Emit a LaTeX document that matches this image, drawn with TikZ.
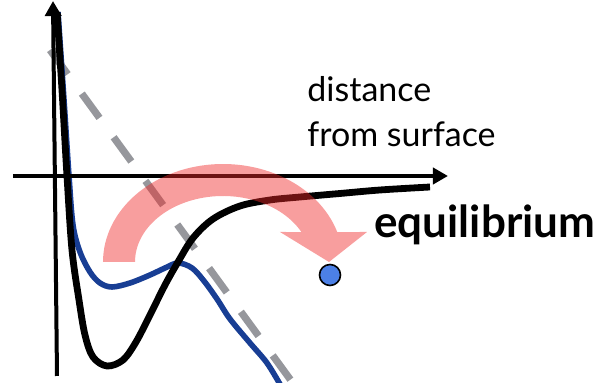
\documentclass[tikz,border=0pt]{standalone}
\usepackage{fontspec}
\setmainfont{Lato}
\usetikzlibrary{arrows.meta}
\definecolor{curveblue}{RGB}{24,62,148}
\definecolor{dashgray}{RGB}{150,151,156}
\definecolor{dotblue}{RGB}{76,128,230}
\definecolor{bandred}{RGB}{240,40,40}
\tikzset{
  axisline/.style={line width=2pt,-{Triangle[length=7.5pt,width=8pt]}},
  blackcurve/.style={line width=3.4pt,line join=round},
  bluecurve/.style={line width=2.8pt,curveblue,line join=round},
  grayline/.style={line width=3.6pt,dashgray,dash pattern=on 15pt off 12pt},
  label/.style={inner sep=0pt,anchor=base west,font=\fontsize{17pt}{20pt}\selectfont},
  biglabel/.style={inner sep=0pt,anchor=base west,font=\fontsize{22pt}{26pt}\selectfont\bfseries},
  eqdot/.style={circle,draw=black,line width=0.8pt,fill=dotblue,minimum size=10.5pt,inner sep=0pt}
}
\begin{document}
\begin{tikzpicture}[x=0.5pt,y=-0.5pt]
\useasboundingbox (0,0) rectangle (602,383);
% dashed gray straight line
\coordinate (gA) at (50,50);
\coordinate (gB) at (295,386);
\draw[grayline] (gA) -- (gB);
% blue curve
\draw[bluecurve] plot[smooth,tension=0.55] coordinates {
 (58,12) (64,100) (69,176) (73,225) (80,252) (90,272) (100,283) (112,287)
 (130,283) (150,275) (165,268) (178,263) (192,268) (204,281) (217,299)
 (230,319) (250,343) (267,363) (281,386)};
% black curve
\draw[blackcurve] plot[smooth,tension=0.55] coordinates {
 (57,12) (62,90) (67,176) (72,250) (79,300) (85,335) (93,357) (107,366)
 (123,360) (136,342) (150,315) (165,285) (178,262) (193,238) (213,219)
 (240,206) (270,200) (300,197) (340,193.5) (380,190) (430,187)};
% axes
\coordinate (vB) at (57,376);
\coordinate (vT) at (53,1);
\draw[axisline] (vB) -- (vT);
\coordinate (hL) at (13,176);
\coordinate (hR) at (448,176);
\draw[axisline] (hL) -- (hR);
% red curved arrow
\fill[bandred,fill opacity=0.45]
  (103,262)
  -- plot[domain=180:17.8,samples=60] ({223+120*cos(\x)},{262-98*sin(\x)})
  -- (367,232) -- (329,262) -- (280,232)
  -- plot[domain=27:180,samples=60] ({223+88*cos(\x)},{262-66*sin(\x)})
  -- cycle;
% dot
\node[eqdot] (dot) at (330,275) {};
% labels
\node[label] (dist) at (307,102) {distance};
\node[label] (surf) at (307,147) {from surface};
\node[biglabel] (eq) at (374,238) {equilibrium};
\end{tikzpicture}
\end{document}
